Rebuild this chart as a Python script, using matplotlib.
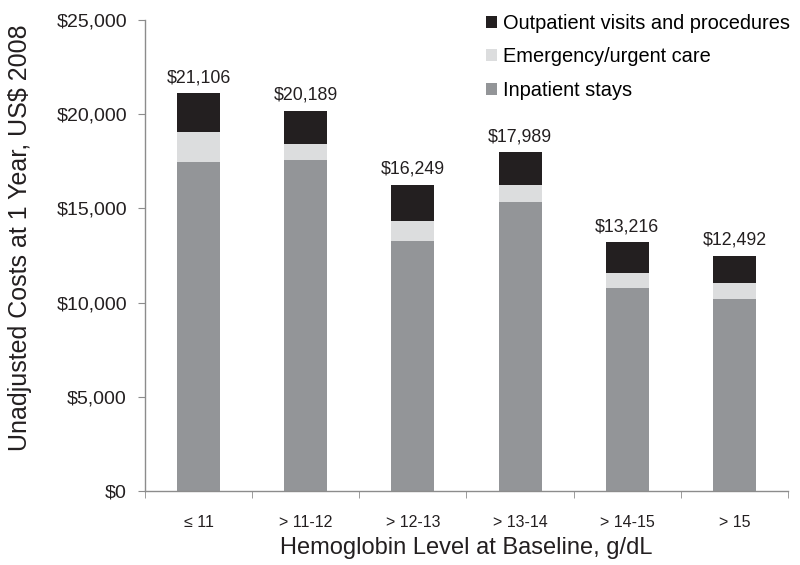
import matplotlib.pyplot as plt
import numpy as np
from matplotlib.ticker import FuncFormatter, FixedLocator

plt.rcParams['font.family'] = ['Liberation Sans', 'DejaVu Sans']

categories = ['\u2264 11', '> 11-12', '> 12-13', '> 13-14', '> 14-15', '> 15']
totals = [21106, 20189, 16249, 17989, 13216, 12492]
inpatient = [17480, 17570, 13290, 15340, 10760, 10210]
emergency = [1590, 830, 1040, 910, 820, 830]
outpatient = [t - i - e for t, i, e in zip(totals, inpatient, emergency)]

c_out = '#231f20'
c_emg = '#dcddde'
c_inp = '#939598'
spine_c = '#8c8c8c'


def main():
    fig = plt.figure(figsize=(8, 5.65), dpi=100)
    ax = fig.add_axes([145 / 800, 1 - 491 / 565, 643 / 800, 471 / 565])

    x = np.arange(len(categories))
    w = 0.4
    inp = np.array(inpatient)
    emg = np.array(emergency)
    h_inp = ax.bar(x, inp, w, color=c_inp, label='Inpatient stays')
    h_emg = ax.bar(x, emg, w, bottom=inp, color=c_emg,
                   label='Emergency/urgent care')
    h_out = ax.bar(x, outpatient, w, bottom=inp + emg, color=c_out,
                   label='Outpatient visits and procedures')

    for xi, t in zip(x, totals):
        ax.annotate('${:,}'.format(t), (xi, t), xytext=(0, 5),
                    textcoords='offset points', ha='center', va='bottom',
                    fontsize=12.8, color='#231f20')

    ax.set_xlim(-0.5, len(categories) - 0.5)
    ax.set_ylim(0, 25000)
    ax.set_yticks(np.arange(0, 25001, 5000))
    ax.yaxis.set_major_formatter(FuncFormatter(lambda v, p: '${:,.0f}'.format(v)))

    ax.set_xticks(x)
    ax.set_xticklabels(categories)
    ax.xaxis.set_minor_locator(FixedLocator(np.arange(-0.5, len(categories), 1)))
    ax.tick_params(axis='x', which='major', length=0, pad=17, labelsize=11.5,
                   colors='#231f20')
    ax.tick_params(axis='x', which='minor', length=5, direction='out',
                   color=spine_c)
    ax.tick_params(axis='y', length=5, direction='out', color=spine_c,
                   pad=8, labelsize=14, labelcolor='#231f20')

    for s in ['top', 'right']:
        ax.spines[s].set_visible(False)
    for s in ['left', 'bottom']:
        ax.spines[s].set_color(spine_c)
        ax.spines[s].set_linewidth(1)

    ax.set_xlabel('Hemoglobin Level at Baseline, g/dL', fontsize=17,
                  color='#231f20', labelpad=5)
    ax.set_ylabel('Unadjusted Costs at 1 Year, US$ 2008', fontsize=18,
                  color='#231f20')
    ax.yaxis.set_label_coords(-0.176, 0.537)

    ax.legend(handles=[h_out, h_emg, h_inp], loc='upper right',
              bbox_to_anchor=(1.031, 1.051), frameon=False, fontsize=14.4,
              handlelength=0.55, handleheight=0.55, handletextpad=0.3,
              labelspacing=0.72)

    fig.savefig('out.png', dpi=100)


if __name__ == '__main__':
    main()
